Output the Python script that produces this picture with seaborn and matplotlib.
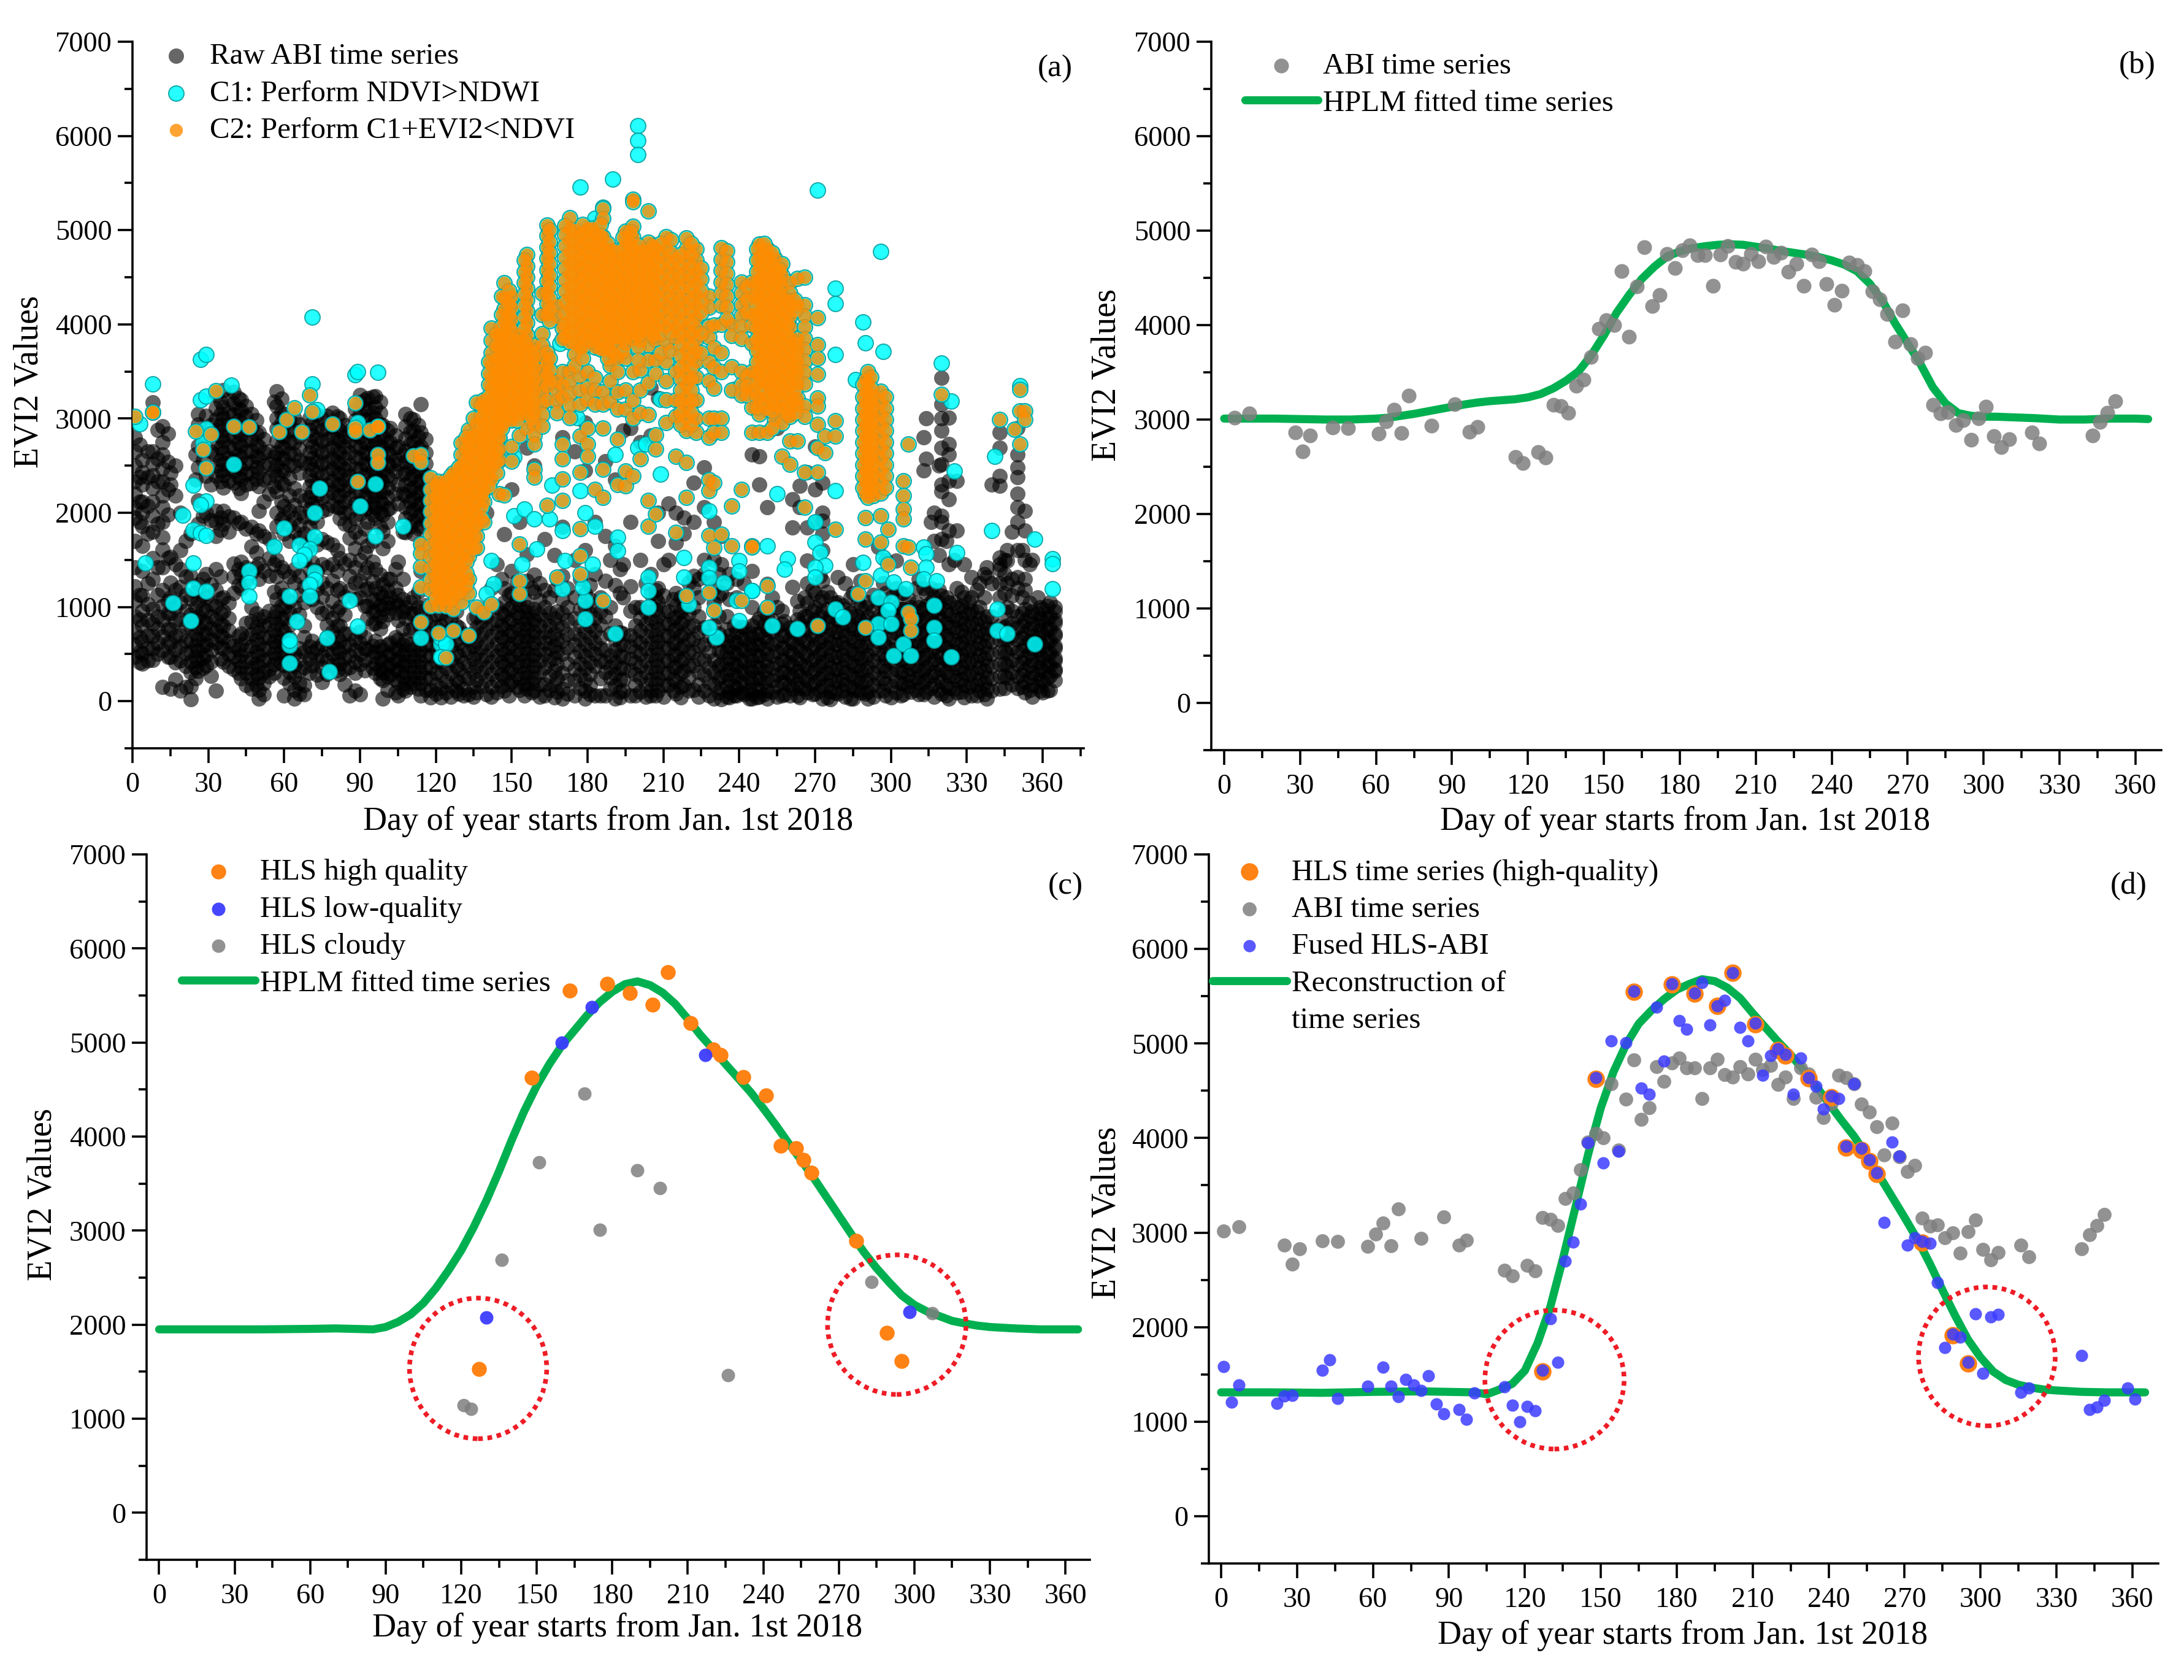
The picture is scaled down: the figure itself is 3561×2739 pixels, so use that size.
import numpy as np
import pandas as pd
import matplotlib
matplotlib.use("Agg")
import matplotlib.pyplot as plt
from matplotlib.patches import Ellipse
from matplotlib.ticker import MultipleLocator
import seaborn as sns

# ---------- panel (a): raw ABI observations, grouped by day ----------
raw_days = [1,4,8,12,15,19,23,26,29,33,36,40,43,47,50,54,57,60,64,68,71,75,79,82,86,90,93,96,99,102,105,108,111,114,
            118,122,126,129,133,136,140,144,147,150,153,156,159,163,167,170,175,179,183,187,191,194,197,201,205,208,212,215,218,222,226,230,233,236,239,242,245,248,
            251,255,258,261,264,267,270,273,276,279,282,285,288,291,295,298,302,305,308,311,314,317,320,323,326,329,332,335,338,343,346,350,353,356,359,362,365]
raw_vals = [
 [2800,2650,2500,2330,2200,2050,1950,1700,1420,1220,1060,900,740,600,470],
 [2560,2430,2300,2120,2000,1860,1650,1380,1120,960,800,640,510,400],
 [3170,3060,2650,2520,2400,2260,2120,1970,1800,1520,1300,980,820,690,560,440],
 [2920,2750,2620,2470,2330,2180,2060,1900,1740,1610,1420,1180,1010,860,690,540,150],
 [2420,2300,1530,1260,1100,930,760,620,470,130],
 [2000,1600,1400,1210,1050,870,700,580,430,110],
 [1780,1330,1090,920,790,640,530,420,310,160,20],
 [3050,2940,2710,2480,2130,1880,1240,1060,900,780,660,540,430,320],
 [3030,2390,2000,1350,1100,960,830,720,600,490,380],
 [3250,3110,2990,2870,2750,2620,2500,2390,2020,1900,1750,1400,1180,1010,870,750,620,110],
 [3300,3120,3000,2880,2760,2640,2520,2400,2270,2020,1880,1100,950,800,680,560,420],
 [3280,3160,3040,2920,2800,2680,2560,2440,2320,1950,1460,1320,1150,590,470,340],
 [3200,3090,2950,2830,2710,2590,2470,2360,2210,1900,1480,1340,1200,720,600,480,360,240],
 [3050,2900,2780,2660,2540,2420,2310,1850,1640,1360,1000,850,710,580,460,350,240,130],
 [2850,2700,2580,2430,2280,2020,1810,1460,1300,870,740,610,490,370,250,120,30],
 [2650,2520,2370,2200,1720,1520,1330,960,820,680,570,450,340,260],
 [3290,3130,3000,2890,2760,2640,2510,2390,2230,2000,1860,1500,1320,1080,950,820,700,590,460],
 [3050,2930,2810,2690,2570,2440,2300,2070,1960,1780,1380,1130,1000,880,740,600,490,380,250,60],
 [3000,2880,2750,2620,2500,2260,2080,1940,1800,1400,1260,1000,500,380,260,120,30],
 [2530,2130,1960,1780,1640,1500,1210,1050,800,680,520,360,170,70],
 [3080,2950,2820,2700,2580,2460,2340,2220,2100,1950,1720,1470,1310,1080,640,520,380],
 [3000,2880,2760,2640,2520,2400,2280,2160,2020,1720,1450,1260,1110,930,600,480,360,200],
 [3060,2920,2800,2690,2570,2460,2340,2220,2080,1660,1450,1280,1060,880,740,620,500,380],
 [3000,2870,2760,2640,2520,2410,2300,2180,2060,1940,1520,1200,1000,800,640,520,400,290],
 [2870,2760,2640,2510,2400,2280,2160,2010,1870,1730,1500,1330,1180,720,600,480,360,60],
 [3250,3170,3050,2930,2810,2690,2580,2460,2340,2230,2100,1990,1740,1500,1280,1100,740,620,500,390,70],
 [3220,3100,2980,2860,2740,2630,2510,2400,2280,2160,2050,1900,1650,1420,1200,1010,880,550],
 [3240,3120,3000,2880,2760,2640,2530,2410,2290,2180,2060,1940,1400,1200,1080,960,830,640,520,400,300],
 [2930,2810,2690,2570,2450,2330,2220,2100,1980,1800,1620,1240,1110,980,850,540,420,310,220,30],
 [2900,2750,2620,2500,2350,2050,1300,1100,990,620,500,390,280],
 [2700,2520,2300,2100,1480,1130,1020,860,650,540,430,320,200,60],
 [3050,2920,2790,2660,2540,2420,2300,2180,2060,1940,1790,1000,880,650,540,420,310,190,110],
 [2990,2870,2750,2630,2510,2390,2270,2150,2030,1910,1780,1100,930,780,550,430,310,190],
 [3150,2850,2700,2580,2460,2340,2220,2100,1980,1860,1680,1380,960,780,660,540,420,310,190,60],
 [1000,860,720,600,480,360,240,120,40],
 [1080,930,800,680,550,420,280,140,40],
 [880,720,580,440,300,160,50],
 [780,620,480,340,200,80],
 [650,520,380,240,70],
 [900,780,640,510,370,230,90],
 [2000,900,760,620,480,360,220,70],
 [1450,1000,860,740,610,480,350,220,90],
 [1770,1200,1050,910,770,640,500,380,250,110],
 [2250,1380,1150,1000,870,740,610,470,340,210],
 [1900,1150,1020,890,760,630,500,370,240,120],
 [2690,1560,1280,1000,880,760,640,510,380,250,130],
 [2500,1340,1160,980,860,740,620,490,370,250,110],
 [1720,1180,1000,870,740,620,500,360,180,60],
 [1550,1180,880,720,590,460,320,170,40],
 [2800,1850,1330,1080,930,780,640,500,300,130,30],
 [2650,1500,1100,880,720,600,470,340,220,60],
 [2960,2450,1600,1150,1000,870,740,610,480,350,220,110,30],
 [1900,1350,1020,880,750,620,500,370,60],
 [2550,1750,1280,900,540,420,310,60],
 [3290,2350,1650,1230,800,660,540,410,290,170,30],
 [2870,1450,1100,720,600,470,350,230,110],
 [2900,1900,1220,960,700,580,450,330,60],
 [2750,1500,1000,880,750,620,500,370,250,100],
 [3330,2820,1350,1140,1010,880,750,620,490,360,230,110,60],
 [3220,2000,1700,1200,1050,900,760,630,500,370,240,110],
 [2100,1500,950,820,690,560,430,300,170],
 [2000,1680,1150,1020,890,760,620,490,360,210,80],
 [1950,1780,1000,860,720,590,450,320,170],
 [2320,1900,1330,1200,1000,800,660,520,380,120],
 [2480,2060,1500,1350,780,600,440,280,110],
 [1900,1500,1200,1040,810,640,440,310,180,30],
 [1750,1450,1150,650,520,390,260,130,20],
 [1350,1080,700,580,460,340,220,100,40],
 [1300,1100,740,620,500,380,260,140,60],
 [1250,780,660,540,420,300,180,70],
 [2620,1380,1000,800,680,560,440,320,200,80,30],
 [2600,2300,880,720,600,480,360,240,120,50],
 [2056,1245,900,760,630,500,370,240,110,30],
 [2900,1000,780,640,520,400,280,160,50],
 [850,700,560,430,310,190,70],
 [2145,1845,1210,740,620,500,380,260,130],
 [2286,2056,960,820,680,540,400,270,140,40],
 [2430,1845,1490,1250,1040,900,760,620,480,350,220,90],
 [2700,2250,1900,1150,1000,860,730,600,470,340,210,80],
 [2320,2000,1916,1776,1600,1280,1100,950,810,680,550,420,290,160,30],
 [1100,900,760,620,490,360,230,100,20],
 [1315,1050,860,730,600,470,340,210,80],
 [1250,980,830,700,570,440,310,180,50],
 [1456,1150,900,770,640,510,380,250,120,30],
 [1280,1000,850,720,590,460,330,200,90],
 [1050,900,760,620,490,360,230,100,30],
 [1633,1050,900,760,630,500,370,240,110],
 [1500,1150,980,850,710,580,450,320,190,60],
 [1490,1200,1000,860,730,600,470,340,210,90],
 [1150,980,840,710,580,450,320,190,70],
 [1000,870,730,600,470,340,210,100],
 [1300,1000,860,720,590,460,330,200,70],
 [3000,2570,1150,1010,880,750,620,490,360,230,100],
 [2000,1700,1100,960,830,700,570,440,310,180,50],
 [3430,3150,3000,2870,2690,2515,2300,2230,1968,1900,1720,1120,990,860,730,600,470,340,210,80],
 [3010,2730,2620,2340,2145,1810,1456,1050,920,790,660,530,400,270,140,30],
 [2340,1810,1200,1000,870,740,610,480,350,220,90],
 [1456,1100,950,820,690,560,430,300,170,40],
 [1315,1100,960,830,700,570,440,310,180,60],
 [1250,1000,880,750,620,490,360,230,110],
 [1420,1315,900,770,640,510,380,250,130,30],
 [2850,2690,2390,2286,1527,1450,1400,1250,1100,800,650,520,390,260,130],
 [1600,1490,1250,1000,800,650,510,380,250],
 [2900,2620,2480,2375,2200,2056,1900,1600,1315,1200,900,780,650,520,390,260,140],
 [2020,1810,1500,1300,1180,980,850,720,590,460,330,200,90],
 [1500,950,820,690,560,430,300,170,50],
 [1000,880,750,620,490,360,230,110],
 [1010,880,760,630,500,380,250,110],
 [950,830,700,560,430,320],
]

# the remaining raw observations, read between the columns above
raw2_days = [3,6,10,14,17,21,25,28,31,35,38,42,45,49,52,56,59,62,66,70,73,77,81,84,88,92,95,98,101,104,107,110,113,116,120,124,128,131,135,138,142,146,149,152,155,158,161,165,168,172,177,181,185,189,193,199,203,207,210,214,217,220,224,228,232,235,238,241,244,247,250,253,257,260,263,266,269,272,275,278,281,284,287,290,293,297,300,304,307,310,313,316,319,322,325,328,331,334,337,340,345,348,352,355,358,360,363,365]
raw2_vals = [
 [2720,2380,2120,1900,1130,870,680,520,410],[2650,2380,2070,1780,1250,1030,860,700,560,430],[2880,2570,2330,1880,1420,1130,900,770,620,500],
 [2840,2540,2250,1980,1520,1060,930,770,620,470],[2500,2180,1450,1180,1000,850,690,550,410,230],[1700,1320,1130,960,790,640,510,370,150],
 [2620,2350,1160,1000,860,720,590,470,360,240],[2810,2560,1970,1300,1130,980,850,710,590,460,350],[2930,2650,2300,1920,1240,1030,900,770,650,540,420,270],
 [3180,3050,2930,2810,2690,2560,2450,2330,1950,1820,1320,1090,930,810,690,570,450],[3210,3060,2940,2820,2700,2580,2460,2340,1960,1800,1040,880,750,630,500,370],[3220,3100,2980,2860,2740,2620,2500,2380,2260,1890,1400,1230,690,550,430,300],
 [3130,3020,2890,2770,2650,2530,2410,2300,1830,1420,1280,830,670,540,420,300,170],[2980,2840,2720,2600,2480,2360,1780,1580,1420,930,780,650,520,400,290,180],[2780,2640,2500,2350,2120,1750,1380,900,800,680,550,430,310,190,70],
 [3180,2590,2440,2280,1640,1450,1160,890,750,630,510,390,300],[3210,3060,2950,2820,2700,2580,2450,2310,2120,1930,1420,1200,1010,880,760,640,520,400],[2990,2870,2750,2630,2510,2370,2180,2020,1870,1700,1320,1060,940,810,670,550,430,310,190],
 [2940,2810,2680,2560,2420,2180,2000,1870,1730,1330,1130,920,560,440,320,190,80],[3010,2880,2760,2640,2520,2400,2280,2160,2040,1850,1640,1400,1150,580,450,300],[3040,2910,2790,2670,2550,2430,2310,2190,2070,1900,1660,1380,1190,1000,560,440,280],
 [3030,2900,2780,2660,2540,2420,2300,2180,2040,1690,1420,1200,950,810,680,550,430,290],[3020,2900,2780,2660,2540,2420,2300,2180,2060,1600,1380,1180,960,800,680,560,440,330],[2930,2810,2700,2580,2460,2350,2240,2120,2000,1880,1460,1110,920,720,580,460,340,180],
 [3100,2980,2830,2710,2590,2470,2350,2230,2100,1940,1800,1620,1420,1260,1080,660,540,420,300,110],[3200,3110,2990,2870,2750,2640,2520,2400,2290,2160,2040,1830,1580,1360,1180,1010,680,560,440,330],[3230,3060,2940,2820,2700,2570,2450,2340,2220,2100,1980,1700,1480,1270,1060,950,820,590,470,350],
 [3180,3060,2940,2820,2700,2580,2470,2350,2230,2120,2000,1850,1340,1150,1020,900,770,580,460,340,240],[2870,2750,2630,2510,2390,2270,2160,2040,1900,1700,1300,1170,1040,920,600,480,360,260,120],[2820,2690,2560,2440,2200,1400,1200,1050,940,680,560,440,340,230,90],
 [2610,2410,2200,1800,1300,1080,950,770,600,490,380,260,130],[3000,2860,2730,2600,2480,2360,2240,2120,2000,1860,1050,930,750,600,480,370,250,150],[2930,2810,2690,2570,2450,2330,2210,2090,1970,1840,1160,1000,850,600,480,370,250,130],
 [2780,2640,2520,2400,2280,2160,2040,1920,1020,860,720,600,480,360,250,120],[1050,920,790,660,540,420,300,180,80],[1000,860,740,610,480,350,210,90],
 [950,800,650,510,370,230,110],[1100,720,550,410,270,130,60],[880,720,580,450,310,150,50],[980,850,710,570,440,300,160],
 [1200,830,690,550,420,290,150,50],[1300,930,800,680,550,420,290,160],[1130,980,840,700,570,440,310,180,60],[1270,1080,940,800,670,540,410,280,150],
 [1080,950,820,690,560,430,300,180,60],[1200,940,820,700,570,440,310,190,90],[1250,1070,920,800,680,550,430,310,180,50],[1100,940,800,680,560,430,270,120],
 [1300,950,800,650,520,390,240,100],[1200,1000,860,710,570,400,220,80],[1300,980,800,660,530,400,280,140],[1230,1080,930,800,680,540,410,290,170,70],
 [1100,950,810,680,560,430,240,60],[1500,1000,720,480,360,250,130],[1400,1150,730,600,480,350,230,100,40],[1000,800,650,530,410,290,170,60],
 [1250,950,820,690,560,430,310,180,50],[1180,1100,970,840,700,570,440,310,190,60],[1450,1120,980,830,700,570,430,300,170,50],[1080,880,750,620,490,360,230,110],
 [1100,950,830,700,560,430,300,150,40],[1260,930,790,650,520,380,250,110],[1300,1100,900,730,590,450,310,180,50],[1300,690,520,360,200,60],
 [1350,1120,900,720,540,380,240,90],[1250,900,760,640,520,400,280,160,50],[800,640,520,400,280,160,60],[790,680,560,440,320,200,90],[720,600,480,360,240,120,30],
 [840,720,600,480,360,240,130,40],[950,810,680,560,440,320,200,70],[1100,860,740,610,480,350,220,100],[960,820,700,570,440,310,200,60],[780,660,530,410,290,170,60],
 [1060,870,730,590,450,320,190,60],[1100,900,770,640,510,380,250,130],[1180,960,830,700,570,440,310,180,70],[1330,1060,900,760,630,500,370,240,110],[1160,980,840,700,570,430,300,170,40],
 [1040,880,740,610,470,340,220,90],[1020,880,750,620,490,360,230,110],[1100,940,800,670,540,410,280,150,30],[1050,900,770,640,500,370,250,120],[1000,850,720,590,460,330,200,80],
 [1130,960,820,690,560,430,300,170,50],[1250,1050,900,770,630,500,370,240,110],[1100,950,800,680,550,420,300,160,40],[1150,980,840,700,570,440,310,190,60],[1090,930,800,670,540,410,280,160],
 [1200,1040,900,770,640,500,370,240,120],[2800,2450,1200,980,850,720,590,460,330,200,70],[1900,1200,1050,920,790,660,530,400,270,140],[2500,1550,1180,1040,910,780,650,520,390,260,120],
 [1700,1100,960,830,700,570,440,310,170,60],[1500,1050,900,780,650,520,390,260,130],[1160,1010,880,750,620,490,360,230,100],[1050,930,800,670,540,410,280,150],
 [1180,950,820,690,560,430,300,170,60],[1350,1100,840,710,580,450,320,190,70],[2300,1250,900,760,630,500,370,240,110],[1500,1350,1150,950,790,660,530,400,270,140],
 [1800,1300,1120,960,830,700,570,440,310,180],[1600,1100,930,800,670,540,410,280,150],[1450,1040,900,770,640,510,380,250,120],[1100,930,810,680,550,420,290,160],
 [980,850,720,590,460,330,210,90],[1050,900,770,640,510,380,270,120],[1000,860,720,590,460,340,220],
]

# observations that pass C1 only
c1_days = [8,27,29,3,27,29,39,29,28,40,24,29,27,20,24,27,29,5,24,24,29,16,23,46,46,46,60,56,66,72,70,68,66,72,72,70,70,62,65,77,62,62,62,78,72,74,71,71,73,86,89,90,96,96,88,89,97,89,107,114,122,122,122,
           200,200,200,190,177,186,183,271,296,
           209,209,204,204,204,228,218,218,220,228,228,231,228,234,240,240,239,240,245,191,192,192,179,179,178,182,183,171,170,160,154,151,155,159,165,170,166,179,177,191,200,203,238,176,169,151,145,143,142,140,124,122,
           278,278,289,290,297,278,286,278,255,270,270,272,274,270,270,259,258,251,253,263,278,281,245,
           320,324,325,340,341,357,364,364,364,326,313,314,314,313,318,317,317,317,324,342,342,346,357,
           289,297,296,301,295,300,306,299,295,300,295,305,308,301,351]
c1_vals = [3366,3629,3677,2944,3199,3239,3352,2890,2742,2513,2290,2124,2083,1976,1815,1788,1761,1465,1465,1196,1169,1043,855,1384,1258,1116,1836,1645,1653,1747,1613,1559,1492,1371,1290,1237,1116,1116,847,672,591,403,645,317,2003,2258,3366,4080,3091,1067,793,2070,2306,1753,3468,3495,3489,2957,1860,672,605,672,470,
           6107,5953,5800,5543,5458,5242,5128,5424,4775,
           3204,2410,1000,1315,1170,2020,1527,1315,1033,1420,1310,680,785,1260,1490,1380,1068,856,1174,715,1739,1598,875,1068,1210,1456,1860,1490,1192,1615,1456,1968,2040,1933,1933,1810,2290,2000,2233,2620,2690,2730,3310,3010,3800,2590,2760,1245,1490,1140,610,470,
           4386,4217,4026,3804,3709,3680,3416,2233,2205,1900,1686,1580,1440,1420,1315,1510,1400,1650,803,768,980,890,1174,
           3590,3186,2445,1810,2600,1720,1510,1460,1190,1580,1633,1562,1420,1300,1280,1015,785,645,468,980,750,715,610,
           1475,1527,1333,1263,1100,1050,1192,962,820,820,680,610,486,486,3345]

# observations that pass C2, grouped by day
c2_days = [1,8,25,28,29,31,33,40,46,58,61,64,67,70,71,79,88,94,97,89,111,
           114,118,121,124,127,130,133,136,139,142,145,147,150,153,156,159,162,164,168,170,173,177,180,183,186,189,192,195,198,201,204,207,211,215,219,223,228,230,233,237,241,245,248,251,254,257,260,263,266,271,
           274,278,287,290,291,293,296,299,305,307,308,320,
           343,349,351,353]
c2_vals = [
 [3024],[3065,3065],[2863],[2669],[2473],[2836],[3293],[2917],[2909],[2857],[2989],[3113],[2857],[3247],[3073],[2943],[3167,2903,2863],[2876],[2917,2917,2621,2535],[2331],[2608],
 [2620,2540,1667,1573,1425,1210,841],
 [2370,2250,2130,2010,1890,1770,1650,1530,1410,1290,1180,1010],
 [2330,2210,2090,1970,1850,1730,1610,1490,1370,1250,1130,1020,726],
 [2340,2220,2100,1980,1860,1740,1620,1500,1380,1260,1140,1010,462],
 [2420,2300,2180,2060,1940,1820,1700,1580,1460,1340,1220,1100,980,753],
 [2740,2620,2500,2380,2260,2140,2020,1900,1780,1660,1540,1420,1300,1180,1050],
 [2880,2760,2640,2520,2400,2280,2160,2040,1920,1800,1680,1540,1300,1150,700],
 [3170,2950,2830,2710,2590,2470,2350,2230,2110,1990,1870,1750,1630,1000],
 [3200,3080,2960,2840,2720,2600,2480,2360,2240,2120,1900,945],
 [3960,3830,3700,3570,3440,3320,3200,3080,2960,2840,2720,2600,2480,2360,1030],
 [3880,3760,3640,3520,3400,3280,3160,3040,2920,2800,2680,2560,2200],
 [4440,4280,4160,4040,3920,3800,3680,3560,3440,3320,3200,3080,2960,2190],
 [4300,4180,4060,3940,3820,3700,3580,3460,3340,3220,3100,2980,2700,2550],
 [3890,3760,3640,3520,3400,3280,3160,3040,2820,1670,1280,1140],
 [4740,4620,4500,4380,4260,4140,4020,3890,3770,3650,3530,3410,3290,3170,3050,2900],
 [3780,3660,3540,3420,3300,3180,3060,2940,2820,2730,2460,2375],
 [4330,4100,3900,3780,3660,3520,3400,3280,3160,3040,2920],
 [5056,4940,4820,4700,4580,4460,4340,4220,4100,3700,3580,3460,3340,3200,2075],
 [4200,4080,3400,3290,3180,3060,1315],
 [3960,3840,3500,3360,3230,2730,2570,2360,2130],
 [5130,5010,4890,4770,4650,4530,4410,4290,4170,4050,3930,3810,3500,3380,3260,3140,3010],
 [4950,4830,4710,4590,4470,4350,4230,4110,3990,3870,3750,3450,3300,3150,2816,2430,1830,1545,1350],
 [5020,4900,4780,4660,4540,4420,4300,4180,4060,3940,3820,3500,3330,3200,2900,2730,2600],
 [4960,4840,4720,4600,4480,4360,4240,4120,4000,3880,3760,3430,3300,3150,2250],
 [5230,5128,4930,4810,4690,4570,4450,4330,4210,4090,3970,3850,3730,3280,3150,2900,2460,2160,1068],
 [4800,4680,4560,4440,4320,4200,4080,3960,3840,3720,3560,3400,3180],
 [4700,4580,4460,4340,4220,4100,3980,3860,3640,3500,3280,3100,2780,2300],
 [4986,4870,4750,4630,4510,4390,4270,4150,4030,3910,3790,3640,3300,3100,2445,2285],
 [5330,5299,5043,4920,4800,4680,4560,4440,4320,4200,4080,3960,3840,3500,3190,3000,2390],
 [4780,4660,4540,4420,4300,4180,4060,3940,3820,3520,3300,3060,2570],
 [5202,4872,4750,4630,4510,4390,4270,4150,4030,3910,3780,3620,3380,3040,2130,1860],
 [4800,4680,4560,4440,4320,4200,4080,3960,3840,3620,3480,2830,2675,1985],
 [4929,4810,4690,4570,4450,4330,4210,4090,3970,3800,3600,3400,3200,2960],
 [4700,4580,4460,4340,4220,4100,3980,3860,3500,3200,3020,2600,1790],
 [4915,4800,4680,4560,4440,4320,4200,4080,3960,3840,3720,3600,3480,3360,3240,3120,3000,2870,2533,2160,1120],
 [4800,4680,4560,4440,4320,4200,4080,3960,3840,3720,3600,3440,3200,3000,2850],
 [4300,4180,3980,3860,3600,3400,3000,2800,2350,2233,1756,1156],
 [3990,3750,3540,3320,3000,2850,2320,1630,963],
 [4810,4690,4570,4450,4330,4200,4000,3700,3500,3000,2850,1775],
 [4000,3880,3550,3300,2074,1650],
 [4450,4330,4210,4090,3970,3850,3500,3360,3250,2250,1068],
 [4450,4300,4100,3990,3800,3500,3300,3120,2850,1650,1633],
 [4850,4730,4610,4490,4370,4250,4130,4010,3890,3770,3650,3530,3400,3220,3050,2850],
 [4800,4680,4560,4440,4320,4200,4080,3960,3840,3720,3600,3480,3360,3240,3100,2850,1227,1000],
 [4700,4580,4460,4340,4220,4100,3980,3860,3740,3620,3500,3380,3260,3140,2980],
 [4640,4520,4400,4280,4160,4040,3920,3800,3680,3560,3440,3320,3200,3080,2950,2600],
 [4450,4330,4210,4090,3970,3850,3730,3610,3490,3370,3250,3130,3020,2515,2760],
 [4490,4210,3850,3730,3610,3490,3370,3220,3130,2760],
 [4500,4210,4090,3970,3850,3730,3610,3490,3370,3130,3020,2427,2056],
 [4070,3786,3640,3470,3220,3130,2940,2690,2427,800],
 [2815,2640],
 [2975,2815,1827],
 [1140],
 [3416,3290,3170,3050,2930,2810,2690,2570,2450,2330,2200,1280,1950,1720,785],
 [3500,3380,3260,3140,3020,2900,2780,2660,2540,2420,2300,2160],
 [3250,3130,3010,2890,2770,2650,2530,2410,2290,2180],
 [3290,3170,3050,2930,2810,2690,2570,2450,2330,2210,1970,1686],
 [1827,1456],
 [2340,2180,2040,1933,1650],
 [2727,1633,945],
 [1420,875,750],
 [3257],
 [2990],[2885],[3310,3080,2727],[3080,2990],
]

# further C2 observations inside the dense mass
c2b_days = [120,123,126,129,132,135,138,141,144,146,149,152,155,158,165,171,175,178,182,185,188,191,194,197,200,203,206,209,213,217,221,225,235,243,247,250,253,256,259,262,289,292,298]
c2b_vals = [
 [2290,2170,2050,1930,1810,1690,1570,1450,1330,1210,1090],[2280,2160,2040,1920,1800,1680,1560,1440,1320,1200,1080],
 [2390,2280,2160,2040,1920,1800,1680,1560,1440,1320,1200,1080],[2480,2360,2240,2120,2000,1880,1760,1640,1520,1400,1280,1160],
 [2800,2680,2560,2440,2320,2200,2080,1960,1840,1720,1600,1480,1360,1240],[3000,2820,2700,2580,2460,2340,2220,2100,1980,1860,1740,1620],
 [3140,3020,2900,2780,2660,2540,2420,2300,2180,2060,1940],[3600,3480,3360,3240,3120,3000,2880,2760,2640,2520,2400,2280],
 [3900,3770,3640,3500,3380,3260,3140,3020,2900,2780,2660,2540,2420],[4300,4100,3980,3860,3740,3620,3500,3380,3260,3140,3020,2900],
 [4360,4220,4100,3980,3860,3740,3620,3500,3380,3260,3140,3020],[3830,3700,3580,3460,3340,3220,3100,2980],
 [4680,4560,4440,4320,4200,4080,3960,3830,3710,3590,3470,3350,3230,3110],[3720,3600,3480,3360,3240,3120,3000],
 [5000,4880,4760,4640,4520,4400,4280,4160,4040,3640,3520,3400],[5050,4950,4830,4710,4590,4470,4350,4230,4110,3990,3870],
 [5000,4880,4760,4640,4520,4400,4280,4160,4040,3920,3800,3680,3560],[5060,4960,4840,4720,4600,4480,4360,4240,4120,4000,3880,3760,3640],
 [5020,4900,4780,4660,4540,4420,4300,4180,4060,3940,3820],[5060,4940,4820,4700,4580,4460,4340,4220,4100,3980,3860,3740],
 [4860,4740,4620,4500,4380,4260,4140,4020,3900,3780,3640],[4780,4640,4520,4400,4280,4160,4040,3920,3800,3680],
 [4920,4800,4680,4560,4440,4320,4200,4080,3960,3840,3720],[4980,4860,4740,4620,4500,4380,4260,4140,4020,3900],
 [4840,4720,4600,4480,4360,4240,4120,4000,3880,3760,3620],[4780,4660,4540,4420,4300,4180,4060,3940],
 [4840,4720,4600,4480,4360,4240,4120,4000,3880],[4860,4740,4620,4500,4380,4260,4140,4020,3900,3700],
 [4900,4760,4640,4520,4400,4280,4160,4040,3920,3720],[4740,4620,4500,4380,4260,4140,4020,3900,3780,3660,3540,3420,3300,3180,3060,2940],
 [4860,4740,4620,4500,4380,4260,4140,4020,3900,3780,3660,3540,3420,3300,3180,3060,2940],[4600,4480,4360,4240,4120,3900,3700],
 [4780,4660,4540,4420,4300,4180,4060],[4400,4260,4130,3450,3350,3250],
 [4800,4680,4560,4440,4320,4200,4080,3960,3840,3720,3600,3480,3360,3240,3120],[4860,4740,4620,4500,4380,4260,4140,4020,3900,3780,3660,3540,3420,3300,3160],
 [4760,4640,4520,4400,4280,4160,4040,3920,3800,3680,3560,3440,3320,3200,3080,2900],[4580,4460,4340,4220,4100,3980,3860,3740,3620,3500,3380,3260,3120],
 [4250,4130,4010,3890,3770,3650,3530,3410,3290,3170,3050],[4260,4150,3800,3670,3550,3430,3310,3190,3060],
 [3360,3230,3110,2990,2870,2750,2630,2510,2390,2270],[3440,3320,3200,3080,2960,2840,2720,2600,2480,2360,2240],[3230,3110,2990,2870,2750,2630,2510,2390,2270],
]

# ---------- panels (b)-(d) ----------
abi_days_b = [4,10,28,31,34,43,49,61,64,67,70,73,82,91,97,100,115,118,124,127,130,133,136,139,142,145,148,151,154,157,160,163,166,169,172,175,178,181,184,187,190,193,196,199,202,205,208,211,214,217,220,223,226,229,232,235,238,241,244,247,250,253,256,259,262,265,268,271,274,277,280,283,286,289,292,295,298,301,304,307,310,319,322,343,346,349,352]
abi_days_d = [1,7,25,28,31,40,46,58,61,64,67,70,79,88,94,97,112,115,121,124,127,130,133,136,139,142,145,148,151,154,157,160,163,166,169,172,175,178,181,184,187,190,193,196,199,202,205,208,211,214,217,220,223,226,229,232,235,238,241,244,247,250,253,256,259,262,265,268,271,274,277,280,283,286,289,292,295,298,301,304,307,316,319,340,343,346,349]
abi_vals = [3017,3063,2864,2665,2830,2915,2909,2852,2983,3102,2858,3250,2938,3165,2869,2920,2602,2540,2653,2597,3159,3142,3074,3358,3420,3665,3960,4051,4000,4574,3875,4409,4824,4199,4318,4756,4602,4795,4847,4739,4739,4415,4744,4835,4670,4648,4756,4676,4830,4722,4767,4568,4648,4415,4744,4676,4432,4216,4364,4665,4636,4574,4358,4273,4119,3824,4159,3801,3648,3710,3153,3068,3080,2943,2994,2784,3011,3136,2824,2710,2790,2864,2744,2830,2977,3074,3193]

fit_days_b = [0,10,20,30,40,50,60,65,70,75,80,85,90,95,100,105,110,115,120,125,130,135,140,145,150,155,160,165,170,175,180,185,190,195,200,205,210,215,220,225,230,235,240,245,250,255,260,265,270,275,280,285,290,295,300,305,310,315,320,330,340,350,360,365]
fit_vals_b = [3010,3010,3010,3005,3000,3000,3010,3020,3040,3060,3085,3110,3135,3160,3180,3195,3205,3215,3235,3270,3330,3410,3510,3680,3890,4130,4320,4490,4620,4727,4780,4815,4835,4850,4855,4850,4830,4810,4785,4765,4745,4720,4685,4640,4570,4440,4260,4020,3807,3590,3340,3170,3068,3040,3030,3030,3025,3020,3015,3000,3000,3010,3010,3005]

high_days = [127,148,163,178,187,196,202,211,220,223,232,241,247,253,256,259,277,289,295]
high_vals = [1530,4623,5549,5624,5526,5400,5745,5204,4928,4870,4635,4434,3899,3876,3755,3617,2892,1915,1616]
low_days = [130,160,172,217,298]
low_vals = [2076,4997,5377,4865,2133]
cloud_days = [121,124,136,151,169,175,190,199,226,283,307]
cloud_vals = [1144,1104,2691,3726,4457,3007,3640,3450,1460,2455,2122]
fit_days_c = [0,20,40,60,70,85,90,95,100,105,110,115,120,125,130,135,140,145,150,155,160,165,170,175,180,185,190,195,200,205,210,215,220,225,230,235,240,245,250,255,260,265,270,275,280,285,290,295,300,305,310,315,320,325,330,340,350,365]
fit_vals_c = [1950,1950,1950,1955,1960,1950,1975,2030,2110,2230,2390,2580,2790,3040,3320,3630,3960,4270,4540,4770,4970,5130,5290,5430,5540,5620,5650,5610,5530,5410,5250,5080,4930,4770,4620,4470,4300,4120,3930,3750,3560,3360,3160,2960,2770,2600,2450,2310,2210,2140,2090,2040,2013,1990,1975,1960,1950,1950]

fused_days = [1,4,7,22,25,28,40,43,46,58,64,67,70,73,76,79,82,85,88,94,97,100,112,115,118,121,124,127,130,133,136,139,142,145,148,151,154,157,160,163,166,169,172,175,178,181,184,187,190,193,196,199,202,205,208,211,214,217,220,223,226,229,232,235,238,241,244,247,250,253,256,259,262,265,268,271,274,277,280,283,286,289,292,295,298,301,304,307,316,319,340,343,346,349,358,361]
fused_vals = [1583,1206,1389,1194,1274,1280,1543,1651,1246,1377,1577,1377,1263,1446,1389,1331,1486,1189,1086,1131,1023,1303,1366,1177,1000,1160,1114,1543,2086,1629,2697,2897,3303,3949,4640,3737,5029,3863,5006,5554,4526,4463,5383,4811,5634,5240,5149,5531,5646,5194,5400,5457,5749,5171,5029,5217,4663,4874,4943,4886,4463,4846,4640,4549,4309,4446,4417,3914,4571,3891,3766,3634,3109,3954,3811,2869,2943,2903,2886,2469,1783,1926,1897,1629,2143,1514,2109,2131,1309,1354,1697,1126,1154,1223,1354,1240]
fit_days_d = [0,20,40,60,80,100,105,110,115,120,125,130,135,140,145,150,155,160,165,170,175,180,185,190,195,200,205,210,215,220,225,230,235,240,245,250,255,260,265,270,275,280,285,290,295,300,305,310,315,320,325,330,340,350,365]
fit_vals_d = [1310,1310,1305,1315,1320,1310,1290,1340,1400,1540,1830,2210,2720,3270,3830,4320,4700,4990,5210,5350,5470,5570,5630,5680,5660,5590,5480,5320,5170,5020,4880,4720,4550,4370,4190,4020,3820,3600,3380,3160,2930,2670,2390,2120,1870,1680,1530,1440,1390,1360,1340,1330,1315,1310,1310]

x_ticks = [0,30,60,90,120,150,180,210,240,270,300,330,360]
xlabel = "Day of year starts from Jan. 1st 2018"
ylabel = "EVI2 Values"

W, H = 3562, 2739
GREEN, ORANGE, BLUE, GRAY = "#00B050", "#FF8214", "#3C3CFF", "#7F7F7F"
FS_TICK, FS_XLABEL, FS_YLABEL, FS_LEG, FS_LET = 33.5, 39, 40, 35.2, 37

sns.set_theme(style="ticks")
plt.rcParams["font.family"] = ["Liberation Serif", "DejaVu Serif"]
fig = plt.figure(figsize=(W / 100, H / 100), dpi=100, facecolor="white")

def axes_px(l, t, r, b):
    return fig.add_axes([l / W, 1 - b / H, (r - l) / W, (b - t) / H])

def style(ax, xlim, lx, ly, ylx, yly, letter, letter_xy):
    ax.set_xlim(*xlim)
    ax.set_ylim(-500, 7000)
    ax.set_xticks(x_ticks)
    ax.xaxis.set_minor_locator(MultipleLocator(15))
    ax.set_yticks(range(0, 7001, 1000))
    ax.yaxis.set_minor_locator(MultipleLocator(500))
    sns.despine(ax=ax)
    for s in ("left", "bottom"):
        ax.spines[s].set_linewidth(2.6)
        ax.spines[s].set_color("black")
    ax.tick_params(axis="both", which="major", length=17, width=2.6, labelsize=FS_TICK, color="black", labelcolor="black")
    ax.tick_params(axis="both", which="minor", length=9.5, width=2.6, color="black")
    ax.tick_params(axis="x", which="major", pad=11)
    ax.tick_params(axis="y", which="major", pad=7)
    ax.set_xlabel(xlabel, fontsize=FS_XLABEL, va="center", color="black")
    ax.set_ylabel(ylabel, fontsize=FS_YLABEL, va="center", color="black")
    ax.xaxis.set_label_coords(lx / W, 1 - ly / H, transform=fig.transFigure)
    ax.yaxis.set_label_coords(ylx / W, 1 - yly / H, transform=fig.transFigure)
    fig.text(letter_xy[0] / W, 1 - letter_xy[1] / H, letter, fontsize=FS_LET, ha="center", va="center", color="black")

def legend(ax, x0, y0, length, pad, order):
    h, l = ax.get_legend_handles_labels()
    ax.legend([h[i] for i in order], [l[i] for i in order], loc="upper left",
              bbox_to_anchor=(x0 / W, 1 - y0 / H), bbox_transform=fig.transFigure,
              frameon=False, fontsize=FS_LEG, borderpad=0, borderaxespad=0,
              handlelength=length / (FS_LEG * 100 / 72), handletextpad=pad / (FS_LEG * 100 / 72),
              labelspacing=0.33, labelcolor="black")

def fit_line(ax, d, v, label):
    df = pd.DataFrame({"day": d, "evi": v})
    sns.lineplot(data=df, x="day", y="evi", color=GREEN, lw=9.5, label=label, ax=ax,
                 errorbar=None, solid_capstyle="round", solid_joinstyle="round", zorder=2)

def dots(ax, d, v, color, size, alpha, label, z=3, **kw):
    df = pd.DataFrame({"day": d, "evi": v})
    sns.scatterplot(data=df, x="day", y="evi", color=color, s=size, alpha=alpha, label=label,
                    ax=ax, zorder=z, **{"linewidth": 0, **kw})

def long_form(days, vals):
    d = np.repeat(days, [len(v) for v in vals])
    return d, np.array([x for v in vals for x in v])

# ---------- (a) ----------
ax = axes_px(216, 68, 1767, 1220)
rd, rv = long_form(raw_days, raw_vals)
rd2, rv2 = long_form(raw2_days, raw2_vals)
c2d, c2v = long_form(c2_days, c2_vals)
c2bd, c2bv = long_form(c2b_days, c2b_vals)
dots(ax, np.r_[rd, rd2], np.r_[rv, rv2], "black", 324, 0.6, "Raw ABI time series", 3)
dots(ax, np.r_[c1_days, c2d, c2bd], np.r_[c1_vals, c2v, c2bv], "#00FFFF", 324, 0.85, "C1: Perform NDVI>NDWI", 4,
     linewidth=1.4, edgecolor="#009A9A")
dots(ax, np.r_[c2d, c2bd], np.r_[c2v, c2bv], "#FF8C00", 235, 0.8, "C2: Perform C1+EVI2<NDVI", 5)
style(ax, (0, 376.3), 992, 1340, 48, 622, "(a)", (1720, 112))
legend(ax, 237, 70, 100, 5, [0, 1, 2])

# ---------- (b) ----------
ax = axes_px(1975, 68, 3524, 1223)
fit_line(ax, fit_days_b, fit_vals_b, "HPLM fitted time series")
dots(ax, abi_days_b, abi_vals, GRAY, 300, 0.85, "ABI time series")
style(ax, (-5.09, 370.2), 2748, 1340, 1805, 611, "(b)", (3485, 107))
legend(ax, 2030, 86, 119, 8, [1, 0])

# ---------- (c) ----------
ax = axes_px(239, 1393, 1777, 2543)
fit_line(ax, fit_days_c, fit_vals_c, "HPLM fitted time series")
dots(ax, high_days, high_vals, ORANGE, 310, 1.0, "HLS high quality")
dots(ax, low_days, low_vals, BLUE, 250, 0.95, "HLS low-quality")
dots(ax, cloud_days, cloud_vals, GRAY, 250, 0.85, "HLS cloudy")
style(ax, (-4.99, 369.7), 1007, 2655, 69, 1947, "(c)", (1737, 1445))
legend(ax, 296, 1400, 120, 8, [1, 2, 3, 0])
for cx, cy, w, h in [(126.7, 1535, 54.5, 1495), (293, 2000, 55, 1484)]:
    ax.add_patch(Ellipse((cx, cy), w, h, fill=False, ec="#EE1C25", lw=5.5, ls=(0, (1, 1)), zorder=6))

# ---------- (d) ----------
ax = axes_px(1971, 1393, 3519, 2549)
fit_line(ax, fit_days_d, fit_vals_d, "Reconstruction of")
dots(ax, abi_days_d, abi_vals, GRAY, 270, 0.85, "ABI time series")
dots(ax, high_days, high_vals, ORANGE, 420, 1.0, "HLS time series (high-quality)", 4)
dots(ax, fused_days, fused_vals, BLUE, 210, 0.85, "Fused HLS-ABI", 5)
style(ax, (-4.85, 370.2), 2744, 2667, 1805, 1977, "(d)", (3471, 1445))
legend(ax, 1977, 1400, 121, 8, [2, 1, 3, 0])
for cx, cy, w, h in [(131.7, 1445, 55, 1469), (302.5, 1690, 54, 1469)]:
    ax.add_patch(Ellipse((cx, cy), w, h, fill=False, ec="#EE1C25", lw=5.5, ls=(0, (1, 1)), zorder=6))
fig.text(2106 / W, 1 - 1664 / H, "time series", fontsize=FS_LEG, ha="left", va="center", color="black")

fig.savefig("out.png", dpi=100, facecolor="white")
